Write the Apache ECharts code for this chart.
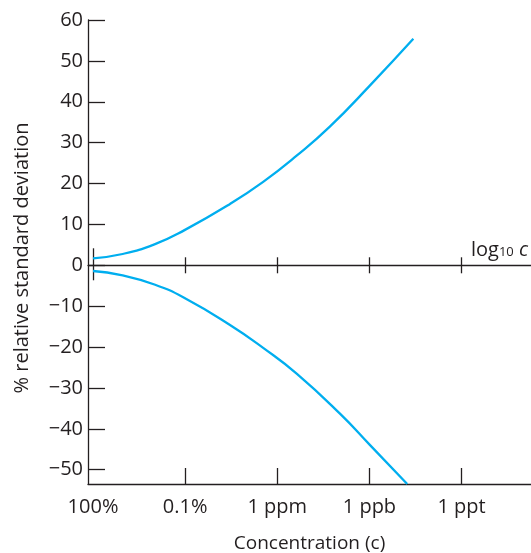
<!DOCTYPE html>
<html><head><meta charset="utf-8">
<script src="https://cdn.jsdelivr.net/npm/echarts@6/dist/echarts.min.js"></script>
<style>html,body{margin:0;padding:0;background:#fff}#c{width:531px;height:553px}</style>
</head><body><div id="c"></div>
<script>
// x = -log10(c); tick labels at decades of concentration
const xTickValues = [0, 3, 6, 9, 12];
const xTickLabels = ['100%', '0.1%', '1 ppm', '1 ppb', '1 ppt'];
const yTickValues = [-50, -40, -30, -20, -10, 0, 10, 20, 30, 40, 50, 60];

const upperX = [0, 0.92, 2.0, 2.98, 4.46, 5.54, 6.63, 7.71, 9.02, 10.43];
const upperY = [1.7, 2.7, 5.1, 8.6, 15.0, 20.4, 26.8, 33.9, 44.0, 55.4];
const lowerX = [0, 0.92, 2.0, 2.98, 4.46, 5.54, 6.63, 8.04, 9.02, 10.23];
const lowerY = [-1.4, -2.4, -4.7, -8.0, -14.6, -20.2, -26.5, -36.3, -44.0, -53.5];

const AX = '#231f20';
const FONT = 'Open Sans';
const LINE = '#00aeef';
const X_MIN = -0.163, X_MAX = 14.26;

const axLine = { color: AX, width: 1.3 };
function zeroAxis(inside, len, vals, extra) {
  return Object.assign({
    type: 'value', min: X_MIN, max: X_MAX, position: 'bottom',
    axisLine: { show: false, onZero: true, onZeroAxisIndex: 0, lineStyle: axLine },
    axisTick: { show: true, inside: inside, length: len, customValues: vals, lineStyle: axLine },
    axisLabel: { show: false }, splitLine: { show: false }
  }, extra || {});
}

const chart = echarts.init(document.getElementById('c'), null, { renderer: 'canvas' });
const option = {
  animation: false,
  grid: { left: 88, right: 0, top: 20, bottom: 69, containLabel: false, outerBoundsMode: 'none' },
  xAxis: [
    {
      type: 'value', min: X_MIN, max: X_MAX, position: 'bottom',
      axisLine: { show: true, onZero: false, lineStyle: axLine },
      axisTick: { show: true, inside: true, length: 16, customValues: [3, 6, 9, 12], lineStyle: axLine },
      axisLabel: {
        customValues: xTickValues,
        formatter: v => xTickLabels[xTickValues.indexOf(Math.round(v))],
        margin: 13, color: AX, fontFamily: FONT, fontSize: 20
      },
      splitLine: { show: false },
      name: 'Concentration (c)', nameLocation: 'middle', nameGap: 50,
      nameTextStyle: { color: AX, fontFamily: FONT, fontSize: 19 }
    },
    zeroAxis(true, 8, [3, 6, 9, 12], {
      axisLine: { show: true, onZero: true, onZeroAxisIndex: 0, lineStyle: axLine },
      name: '{a|log}{s|10}{a| }{i|c}', nameLocation: 'end', nameGap: -3,
      nameTextStyle: {
        align: 'right', verticalAlign: 'bottom', padding: [0, 0, 5, 0],
        rich: {
          a: { fontFamily: FONT, fontSize: 20, color: AX, verticalAlign: 'bottom' },
          s: { fontFamily: FONT, fontSize: 13, color: AX, verticalAlign: 'bottom', padding: [0, 0, 1, 0] },
          i: { fontFamily: FONT, fontSize: 20, color: AX, fontStyle: 'italic', verticalAlign: 'bottom' }
        }
      }
    }),
    zeroAxis(false, 8, [3, 6, 9, 12]),
    zeroAxis(true, 17, [0]),
    zeroAxis(false, 15, [0])
  ],
  yAxis: [{
    type: 'value', min: -53.5, max: 60,
    axisLine: { show: true, onZero: false, lineStyle: axLine },
    axisTick: { show: true, inside: true, length: 17, customValues: yTickValues, lineStyle: axLine },
    axisLabel: {
      customValues: yTickValues,
      formatter: v => (v < 0 ? '\u2212' + Math.abs(v) : String(v)),
      margin: 5, color: AX, fontFamily: FONT, fontSize: 20
    },
    splitLine: { show: false },
    name: '% relative standard deviation', nameLocation: 'middle', nameGap: 56,
    nameTextStyle: { color: AX, fontFamily: FONT, fontSize: 20, padding: [0, 12, 0, 0] }
  }],
  series: [
    {
      type: 'line', xAxisIndex: 0, yAxisIndex: 0, showSymbol: false, smooth: 0.5,
      lineStyle: { color: LINE, width: 2.3 }, itemStyle: { color: LINE },
      data: upperX.map((x, i) => [x, upperY[i]])
    },
    {
      type: 'line', xAxisIndex: 0, yAxisIndex: 0, showSymbol: false, smooth: 0.5,
      lineStyle: { color: LINE, width: 2.3 }, itemStyle: { color: LINE },
      data: lowerX.map((x, i) => [x, lowerY[i]])
    }
  ]
};
chart.setOption(option);
</script>
</body></html>
